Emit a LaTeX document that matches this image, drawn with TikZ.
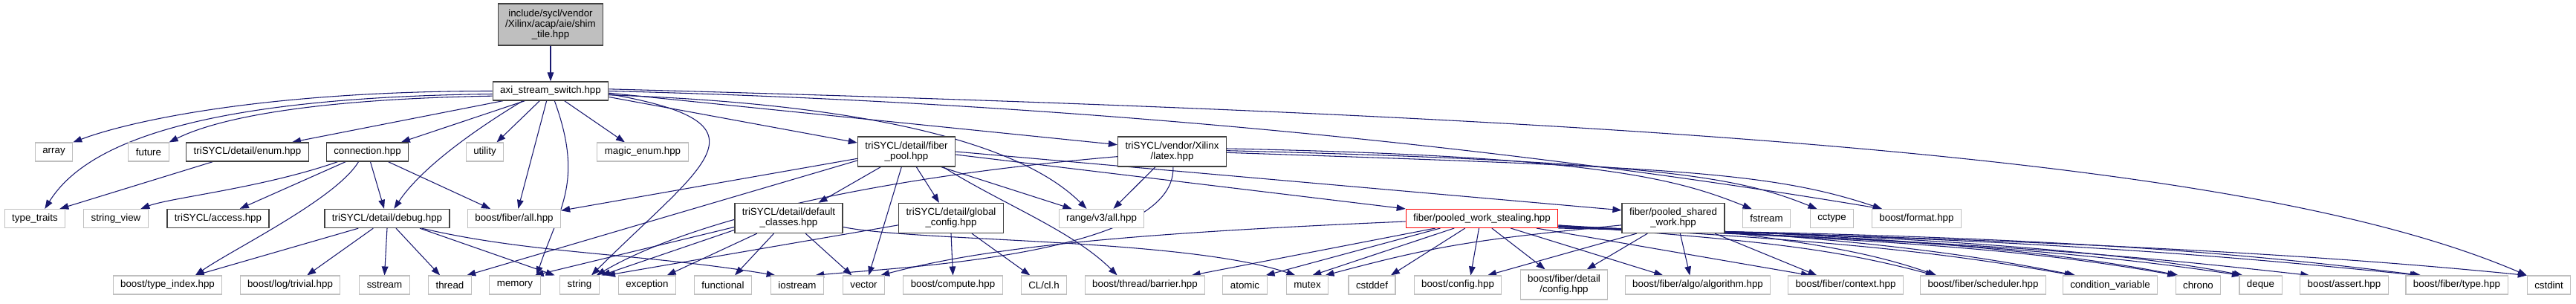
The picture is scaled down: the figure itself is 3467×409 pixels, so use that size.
\documentclass[tikz,border=0pt]{standalone}
\usepackage{fontspec}
\setmainfont{Liberation Sans}
\usetikzlibrary{arrows.meta}
\definecolor{edgeblue}{HTML}{191970}
\definecolor{boxgray}{HTML}{BFBFBF}
\definecolor{boxdark}{HTML}{404040}
\pgfdeclarelayer{back}
\pgfsetlayers{back,main}
\tikzset{
  sysfile/.style={draw=boxgray,line width=0.8pt,fill=white,align=center,
    font=\fontsize{10}{10.5}\selectfont,inner xsep=7.5pt,inner ysep=1pt,minimum height=18.75pt},
  projfile/.style={sysfile,draw=boxdark,line width=1pt},
  twoline/.style={minimum height=30pt},
  dep/.style={draw=edgeblue,line width=0.8pt,->}
}

\begin{document}
\begin{tikzpicture}[x=0.75pt,y=-0.75pt,>={Triangle[length=9pt,width=6.5pt]}]
  \useasboundingbox (0,0) rectangle (3467,409);
  % top and first level
  \node[projfile,fill=boxgray,minimum height=42pt] (root) at (741,33) {include/sycl/vendor\\/Xilinx/acap/aie/shim\\\_tile.hpp};
  \node[projfile] (axi) at (741,122.5) {axi\_stream\_switch.hpp};
  % second row
  \node[sysfile] (array) at (72.5,204.5) {array};
  \node[sysfile] (future) at (200,204.5) {future};
  \node[projfile] (enumh) at (333,204.5) {triSYCL/detail/enum.hpp};
  \node[projfile] (conn) at (494.5,204.5) {connection.hpp};
  \node[sysfile] (utility) at (652.5,204.5) {utility};
  \node[sysfile] (magic) at (865,204.5) {magic\_enum.hpp};
  \node[projfile,twoline] (fpool) at (1220,204) {triSYCL/detail/fiber\\\_pool.hpp};
  \node[projfile,twoline] (latex) at (1577.5,204) {triSYCL/vendor/Xilinx\\/latex.hpp};
  % third row
  \node[sysfile] (ttraits) at (47,294) {type\_traits};
  \node[sysfile] (sview) at (156,294) {string\_view};
  \node[projfile] (access) at (293.5,294) {triSYCL/access.hpp};
  \node[projfile] (debug) at (521,294) {triSYCL/detail/debug.hpp};
  \node[sysfile] (fiberall) at (692,294) {boost/fiber/all.hpp};
  \node[projfile,twoline] (defcls) at (1061.5,293.5) {triSYCL/detail/default\\\_classes.hpp};
  \node[projfile,twoline] (gconf) at (1280,293.5) {triSYCL/detail/global\\\_config.hpp};
  \node[sysfile] (range) at (1482.5,294) {range/v3/all.hpp};
  \node[sysfile,draw=red] (wsteal) at (1994.5,294) {fiber/pooled\_work\_stealing.hpp};
  \node[projfile,twoline] (shwork) at (2252,293.5) {fiber/pooled\_shared\\\_work.hpp};
  \node[sysfile] (fstream) at (2377.5,294) {fstream};
  \node[sysfile] (cctype) at (2465.5,294) {cctype};
  \node[sysfile] (bformat) at (2579.5,294) {boost/format.hpp};
  % bottom row
  \node[sysfile] (tindex) at (225.5,383.5) {boost/type\_index.hpp};
  \node[sysfile] (logtriv) at (390.5,383.5) {boost/log/trivial.hpp};
  \node[sysfile] (sstream) at (517.5,383.5) {sstream};
  \node[sysfile] (thread) at (605.5,383.5) {thread};
  \node[sysfile] (memory) at (693,383.5) {memory};
  \node[sysfile] (string) at (780,383.5) {string};
  \node[sysfile] (exception) at (871,383.5) {exception};
  \node[sysfile] (functional) at (973,383.5) {functional};
  \node[sysfile] (iostream) at (1073,383.5) {iostream};
  \node[sysfile] (vector) at (1162.5,383.5) {vector};
  \node[sysfile] (compute) at (1282.5,383.5) {boost/compute.hpp};
  \node[sysfile] (clh) at (1405,383.5) {CL/cl.h};
  \node[sysfile] (barrier) at (1541,383.5) {boost/thread/barrier.hpp};
  \node[sysfile] (atomic) at (1675.5,383.5) {atomic};
  \node[sysfile] (mutex) at (1759.5,383.5) {mutex};
  \node[sysfile] (cstddef) at (1846.5,383.5) {cstddef};
  \node[sysfile] (bconfig) at (1962,383.5) {boost/config.hpp};
  \node[sysfile,twoline] (fdconfig) at (2105,383) {boost/fiber/detail\\/config.hpp};
  \node[sysfile] (algo) at (2285,383.5) {boost/fiber/algo/algorithm.hpp};
  \node[sysfile] (context) at (2484,383.5) {boost/fiber/context.hpp};
  \node[sysfile] (sched) at (2669,383.5) {boost/fiber/scheduler.hpp};
  \node[sysfile] (condvar) at (2840,383.5) {condition\_variable};
  \node[sysfile] (chrono) at (2958.5,383.5) {chrono};
  \node[sysfile] (deque) at (3042.5,383.5) {deque};
  \node[sysfile] (bassert) at (3155,383.5) {boost/assert.hpp};
  \node[sysfile] (ftype) at (3306.5,383.5) {boost/fiber/type.hpp};
  \node[sysfile] (cstdint) at (3430.5,383.5) {cstdint};

  \begin{pgfonlayer}{back}
  \fill[white] (0,0) rectangle (3467,409);
  \draw[dep] (root) -- (axi);
  % axi_stream_switch.hpp
  \draw[dep] (axi.west) .. controls +(-300,0) and +(80,-30) .. (array.north east);
  \draw[dep] ([yshift=-3pt]axi.west) .. controls +(-420,5) and +(50,-80) .. ([xshift=10pt]ttraits.north);
  \draw[dep] ([yshift=-5pt]axi.west) .. controls +(-280,5) and +(50,-25) .. (future.north east);
  \draw[dep] ([xshift=-48pt]axi.south) -- ([xshift=45pt]enumh.north);
  \draw[dep] ([xshift=-26pt]axi.south) -- ([xshift=34pt]conn.north);
  \draw[dep] ([xshift=-28pt]axi.south) .. controls +(-50,30) and +(40,-60) .. ([xshift=7pt]debug.north);
  \draw[dep] ([xshift=-11pt]axi.south) -- ([xshift=12pt]utility.north);
  \draw[dep] ([xshift=-4pt]axi.south) -- ([xshift=4pt]fiberall.north);
  \draw[dep] ([xshift=4pt]axi.south) .. controls +(40,110) and +(30,-90) .. ([xshift=22pt]memory.north);
  \draw[dep] ([xshift=14pt]axi.south) -- ([xshift=-18pt]magic.north);
  \draw[dep] ([yshift=-3pt]axi.east) .. controls +(230,40) and +(150,-150) .. ([xshift=12pt]string.north);
  \draw[dep] ([yshift=-4pt]axi.east) .. controls +(300,10) and +(-100,-100) .. ([xshift=-15pt]range.north);
  \draw[dep] ([yshift=-6pt]axi.east) -- ([yshift=9pt]fpool.west);
  \draw[dep] ([yshift=-2pt]axi.east) -- ([yshift=7pt]latex.west);
  \draw[dep] (axi.east) .. controls +(800,20) and +(-300,-50) .. ([xshift=-35pt]bformat.north);
  \draw[dep] ([yshift=2pt]axi.east) .. controls +(1500,40) and +(-350,-150) .. (cstdint.north west);
  % enum.hpp, connection.hpp
  \draw[dep] ([xshift=-35pt]enumh.south) -- ([xshift=25pt]ttraits.north);
  \draw[dep] ([xshift=-30pt]conn.south) .. controls +(-100,35) and +(40,-15) .. ([xshift=25pt]sview.north);
  \draw[dep] ([xshift=-22pt]conn.south) -- ([xshift=22pt]access.north);
  \draw[dep] ([xshift=-9pt]conn.south) .. controls +(-30,50) and +(50,-35) .. ([xshift=28pt]tindex.north);
  \draw[dep] ([xshift=3pt]conn.south) -- ([xshift=-3pt]debug.north);
  \draw[dep] ([xshift=21pt]conn.south) -- ([xshift=-24pt]fiberall.north);
  % debug.hpp
  \draw[dep] ([xshift=-29pt]debug.south) -- ([xshift=28pt]tindex.north);
  \draw[dep] ([xshift=-14pt]debug.south) -- ([xshift=17pt]logtriv.north);
  \draw[dep] (debug.south) -- (sstream.north);
  \draw[dep] ([xshift=9pt]debug.south) -- ([xshift=-10pt]thread.north);
  \draw[dep] ([xshift=33pt]debug.south) -- ([xshift=-25pt]string.north);
  \draw[dep] ([xshift=35pt]debug.south) .. controls +(150,35) and +(-180,-30) .. ([xshift=-22pt]iostream.north);
  % fiber_pool.hpp
  \draw[dep] ([yshift=-7pt]fpool.west) -- ([yshift=8pt]fiberall.east);
  \draw[dep] ([yshift=-9pt]fpool.west) -- ([xshift=17pt]thread.north);
  \draw[dep] ([xshift=-26pt]fpool.south) -- ([xshift=30pt]defcls.north);
  \draw[dep] ([xshift=-5pt]fpool.south) -- ([xshift=5pt]vector.north);
  \draw[dep] ([xshift=10pt]fpool.south) -- ([xshift=-12pt]gconf.north);
  \draw[dep] ([xshift=35pt]fpool.south) -- ([xshift=-30pt]range.north);
  \draw[dep] ([xshift=37pt]fpool.south) .. controls +(80,50) and +(-60,-60) .. ([xshift=-28pt]barrier.north);
  \draw[dep] ([yshift=-3pt]fpool.east) -- (wsteal.north west);
  \draw[dep] (fpool.east) -- ([yshift=8pt]shwork.west);
  % latex.hpp
  \draw[dep] ([yshift=-5pt]latex.west) .. controls +(-350,30) and +(120,-70) .. ([xshift=17pt]string.north);
  \draw[dep] ([xshift=-17pt]latex.south) -- ([xshift=12pt]range.north);
  \draw[dep] ([xshift=1pt]latex.south) .. controls +(5,120) and +(100,-10) .. ([xshift=18pt]iostream.north);
  \draw[dep] ([yshift=3pt]latex.east) .. controls +(500,10) and +(-100,-40) .. ([xshift=-15pt]fstream.north);
  \draw[dep] ([yshift=1pt]latex.east) .. controls +(600,15) and +(-100,-40) .. ([xshift=-15pt]cctype.north);
  \draw[dep] ([yshift=-1pt]latex.east) .. controls +(600,20) and +(-150,-50) .. ([xshift=-35pt]bformat.north);
  % default_classes.hpp, global_config.hpp
  \draw[dep] ([yshift=-9pt]defcls.west) -- ([xshift=20pt]memory.north);
  \draw[dep] ([yshift=-12pt]defcls.west) -- ([xshift=22pt]string.north);
  \draw[dep] ([xshift=-32pt]defcls.south) -- ([xshift=20pt]exception.north);
  \draw[dep] ([xshift=-15pt]defcls.south) -- ([xshift=12pt]functional.north);
  \draw[dep] ([xshift=17pt]defcls.south) -- ([xshift=-12pt]vector.north);
  \draw[dep] ([yshift=-9pt]defcls.east) .. controls +(100,20) and +(-150,-50) .. ([xshift=-12pt]mutex.north);
  \draw[dep] ([yshift=-7pt]gconf.west) -- ([xshift=27pt]string.north);
  \draw[dep] (gconf.south) -- (compute.north);
  \draw[dep] ([xshift=21pt]gconf.south) -- ([xshift=-14pt]clh.north);
  % pooled_work_stealing.hpp
  \draw[dep] ([yshift=-3pt]wsteal.west) .. controls +(-350,15) and +(150,-40) .. ([xshift=17pt]vector.north);
  \draw[dep] ([xshift=-47pt]wsteal.south) -- ([xshift=47pt]barrier.north);
  \draw[dep] ([xshift=-42pt]wsteal.south) -- ([xshift=21pt]atomic.north);
  \draw[dep] ([xshift=-28pt]wsteal.south) -- ([xshift=5pt]mutex.north);
  \draw[dep] ([xshift=-17pt]wsteal.south) -- ([xshift=19pt]cstddef.north);
  \draw[dep] ([xshift=-3pt]wsteal.south) -- ([xshift=13pt]bconfig.north);
  \draw[dep] ([xshift=10pt]wsteal.south) -- ([xshift=-19pt]fdconfig.north);
  \draw[dep] ([xshift=29pt]wsteal.south) -- ([xshift=-35pt]algo.north);
  \draw[dep] ([xshift=55pt]wsteal.south) -- ([xshift=-36pt]context.north);
  \draw[dep] ([yshift=3pt]wsteal.south east) .. controls +(250,20) and +(-150,-40) .. ([xshift=-49pt]sched.north);
  \draw[dep] ([yshift=3pt]wsteal.south east) .. controls +(350,20) and +(-200,-35) .. ([xshift=-37pt]condvar.north);
  \draw[dep] ([yshift=2pt]wsteal.south east) .. controls +(450,18) and +(-200,-35) .. ([xshift=-22pt]chrono.north);
  \draw[dep] ([yshift=2pt]wsteal.south east) .. controls +(500,18) and +(-200,-30) .. ([xshift=-20pt]deque.north);
  \draw[dep] ([yshift=1pt]wsteal.south east) .. controls +(550,18) and +(-250,-28) .. ([xshift=-35pt]bassert.north);
  \draw[dep] ([yshift=1pt]wsteal.south east) .. controls +(650,15) and +(-250,-25) .. ([xshift=-38pt]ftype.north);
  \draw[dep] (wsteal.south east) .. controls +(700,15) and +(-250,-25) .. (cstdint.north west);
  % pooled_shared_work.hpp
  \draw[dep] ([yshift=-7pt]shwork.west) .. controls +(-200,20) and +(150,-40) .. ([xshift=18pt]mutex.north);
  \draw[dep] ([xshift=-37pt]shwork.south) -- ([xshift=30pt]bconfig.north);
  \draw[dep] ([xshift=-26pt]shwork.south) -- ([xshift=23pt]fdconfig.north);
  \draw[dep] ([xshift=7pt]shwork.south) -- ([xshift=-8pt]algo.north);
  \draw[dep] ([xshift=42pt]shwork.south) -- ([xshift=-29pt]context.north);
  \draw[dep] ([yshift=2pt]shwork.south east) .. controls +(100,15) and +(-100,-35) .. ([xshift=-47pt]sched.north);
  \draw[dep] ([yshift=2pt]shwork.south east) .. controls +(200,15) and +(-150,-30) .. ([xshift=-35pt]condvar.north);
  \draw[dep] ([yshift=2pt]shwork.south east) .. controls +(250,10) and +(-150,-30) .. ([xshift=-20pt]chrono.north);
  \draw[dep] ([yshift=2pt]shwork.south east) .. controls +(300,10) and +(-150,-30) .. ([xshift=-18pt]deque.north);
  \draw[dep] ([yshift=2pt]shwork.south east) .. controls +(500,10) and +(-200,-25) .. ([xshift=-36pt]ftype.north);
  \end{pgfonlayer}
\end{tikzpicture}
\end{document}
